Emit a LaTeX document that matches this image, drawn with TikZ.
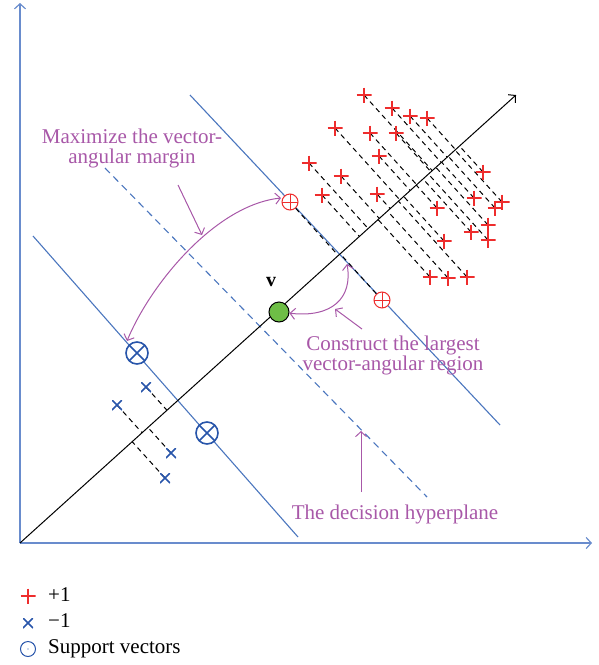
\documentclass[tikz,border=0pt]{standalone}
\usepackage{fontspec}
\setmainfont{Liberation Serif}
\usetikzlibrary{arrows.meta,calc}
\pgfdeclarelayer{bg}
\pgfsetlayers{bg,main}
\definecolor{axblue}{RGB}{105,140,205}
\definecolor{lnblue}{RGB}{75,118,190}
\definecolor{mkblue}{RGB}{40,85,170}
\definecolor{mkred}{RGB}{238,45,45}
\definecolor{lblpurple}{RGB}{168,88,168}
\definecolor{vgreen}{RGB}{110,190,70}
\begin{document}
\begin{tikzpicture}[x=1pt,y=-1pt,>={Straight Barb[length=5pt,width=11pt]},
  axis/.style={draw=axblue,line width=1.2pt,->},
  hyper/.style={draw=lnblue,line width=1.1pt},
  hyperdash/.style={hyper,dash pattern=on 7pt off 5pt},
  projdash/.style={draw=black,line width=1pt,dash pattern=on 5pt off 4pt},
  plusmark/.style={minimum size=15pt,inner sep=0pt,
    path picture={\draw[mkred,line width=1.3pt]
      (path picture bounding box.west)--(path picture bounding box.east)
      (path picture bounding box.north)--(path picture bounding box.south);}},
  crossmark/.style={minimum size=10pt,inner sep=0pt,
    path picture={\draw[mkblue,line width=1.5pt]
      (path picture bounding box.north west)--(path picture bounding box.south east)
      (path picture bounding box.north east)--(path picture bounding box.south west);}},
  svplus/.style={circle,draw=mkred,line width=1pt,minimum size=16pt,inner sep=0pt,fill=white,
    path picture={\draw[mkred,line width=1pt]
      (path picture bounding box.west)--(path picture bounding box.east)
      (path picture bounding box.north)--(path picture bounding box.south);}},
  svcross/.style={circle,draw=mkblue,line width=1.6pt,minimum size=22pt,inner sep=0pt,fill=white,
    path picture={\draw[mkblue,line width=1.6pt]
      (path picture bounding box.north west)--(path picture bounding box.south east)
      (path picture bounding box.north east)--(path picture bounding box.south west);}},
  legcircle/.style={circle,draw=mkblue,line width=1pt,minimum size=15pt,inner sep=0pt,
    path picture={\fill[mkblue] (path picture bounding box.center) circle (0.6pt);}},
  note/.style={text=lblpurple,font=\fontsize{21}{20}\selectfont,align=center,inner sep=0pt},
  notearrow/.style={draw=lblpurple,line width=1pt},
  legtext/.style={font=\fontsize{21}{20}\selectfont,anchor=base west,inner sep=0pt}]
\useasboundingbox (0,0) rectangle (598,665);
% axes
\coordinate (O) at (20,543);
\coordinate (Ytop) at (20,3);
\coordinate (Xend) at (592,543);
\coordinate (T) at (516,95);
\draw[axis] (O) -- (Ytop);
\draw[axis] (O) -- (Xend);
% hyperplanes
\coordinate (u1) at (190,95);
\coordinate (u2) at (500,425);
\coordinate (l1) at (33,236);
\coordinate (l2) at (298,537);
\coordinate (d1) at (105,168);
\coordinate (d2) at (427,497);
\draw[hyper] (u1) -- (u2);
\draw[hyper] (l1) -- (l2);
\draw[hyperdash] (d1) -- (d2);
% direction vector
\draw[line width=1pt,->] (O) -- (T);
% positive points
\foreach \px/\py [count=\i] in {364/95,392/108,410/116,427/118,335/128,370/133,396/133,379/156,
  309/163,341/176,322/195,377/194,483/172,474/198,502/202,495/208,437/208,488/225,
  471/232,488/240,444/241,430/277,448/278,467/277}{
  \node[plusmark] (p\i) at (\px,\py) {};
  \begin{pgfonlayer}{bg}
  \draw[projdash] (p\i.center) -- ($(O)!(p\i.center)!(T)$);
  \end{pgfonlayer}
}
% negative points
\foreach \px/\py [count=\i] in {146/387,117/405,171/453,165/478}{
  \node[crossmark] (n\i) at (\px,\py) {};
  \begin{pgfonlayer}{bg}
  \draw[projdash] (n\i.center) -- ($(O)!(n\i.center)!(T)$);
  \end{pgfonlayer}
}
% support vectors
\node[svplus] (sv1) at (290,202) {};
\node[svplus] (sv2) at (382,300) {};
\draw[projdash] (sv1) -- ($(O)!(sv1.center)!(T)$);
\draw[projdash] (sv2) -- ($(O)!(sv2.center)!(T)$);
\node[svcross] (sv3) at (137,353) {};
\node[svcross] (sv4) at (207,433) {};
% v
\node[circle,draw=black,fill=vgreen,line width=1pt,minimum size=20pt,inner sep=0pt] (v) at (279,312) {};
\node[font=\bfseries\fontsize{20}{20}\selectfont,inner sep=0pt] (vlbl) at (271,282) {v};
% arcs
\coordinate (arcA) at (127,341);
\coordinate (arcB) at (281,198);
\draw[notearrow,<->] (arcA) .. controls (150,285) and (215,205) .. (arcB);
\coordinate (arcD) at (347,264);
\draw[notearrow,<->] (v) .. controls (332,318) and (353,298) .. (arcD);
% labels
\node[note] (maxlbl) at (132,148) {Maximize the vector-\\angular margin};
\node[note] (conlbl) at (393,355) {Construct the largest\\vector-angular region};
\node[note,anchor=base] (declbl) at (395,519) {The decision hyperplane};
\coordinate (mtail) at (178,185);
\coordinate (mtip) at (202,235);
\draw[notearrow,->] (mtail) -- (mtip);
\coordinate (ctail) at (362,329);
\coordinate (ctip) at (335,309);
\draw[notearrow,->] (ctail) -- (ctip);
\coordinate (dtail) at (361,492);
\coordinate (dtip) at (361,431);
\draw[notearrow,->] (dtail) -- (dtip);
% legend
\node[plusmark] (lp) at (28,596) {};
\node[legtext] (lpt) at (48,601) {+1};
\node[crossmark] (lc) at (28,623) {};
\node[legtext] (lct) at (48,627) {−1};
\node[legcircle] (ls) at (28,649) {};
\node[legtext] (lst) at (48,653) {Support vectors};
\end{tikzpicture}
\end{document}
